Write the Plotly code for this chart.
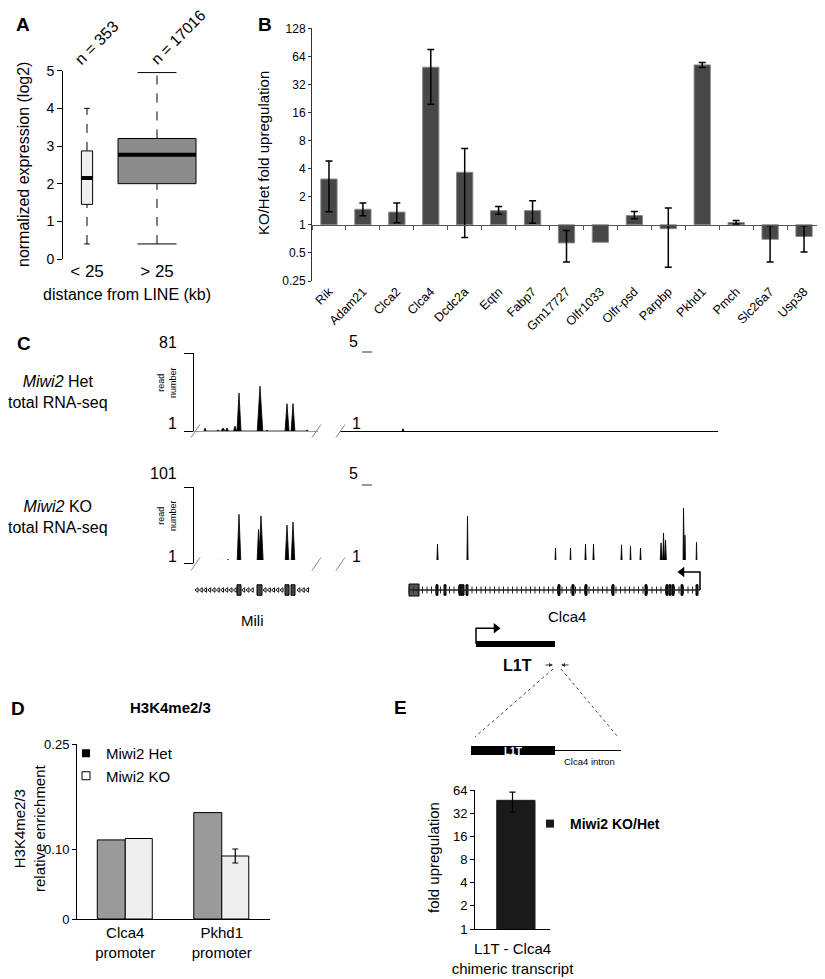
import numpy as np
import plotly.graph_objects as go

# The page body has an 8 px margin, so the figure is drawn 8 px in from the corner.
OFF = 8
W, H = 825 - OFF, 979 - OFF
FONT = "Liberation Sans, Arial, Helvetica, sans-serif"

# ---------------- Panel A: expression vs distance from LINE ----------------
a_groups = ["< 25", "> 25"]
a_n = [353, 17016]
a_whisker_low = [0.40, 0.40]
a_q1 = [1.45, 2.00]
a_median = [2.15, 2.77]
a_q3 = [2.87, 3.20]
a_whisker_high = [4.00, 4.95]
a_fill = ["#eeeeee", "#8c8c8c"]

# ---------------- Panel B: KO/Het fold upregulation ----------------
b_genes = ["Rik", "Adam21", "Clca2", "Clca4", "Dcdc2a", "Eqtn", "Fabp7", "Gm17727",
           "Olfr1033", "Olfr-psd", "Parpbp", "Pkhd1", "Pmch", "Slc26a7", "Usp38"]
b_fold = [3.1, 1.47, 1.37, 49.0, 3.66, 1.42, 1.42, 0.64, 0.65, 1.26, 0.91, 51.8, 1.06, 0.70, 0.75]
b_err_high = [4.85, 1.71, 1.71, 76.0, 6.6, 1.57, 1.81, 0.87, None, 1.39, 1.52, 54.9, 1.11, 0.98, 0.98]
b_err_low = [1.38, 1.25, 1.05, 19.6, 0.73, 1.30, 1.04, 0.40, None, 1.16, 0.35, 48.5, 1.02, 0.40, 0.51]
b_ticks = [0.25, 0.5, 1, 2, 4, 8, 16, 32, 64, 128]

# ---------------- Panel C: RNA-seq coverage (positions in kb) ----------------
mili_het_kb = [2.2, 4.8, 5.8, 6.6, 8.2, 9.0, 13.2, 14.6, 18.6, 19.8, 22.6]
mili_het_reads = [4, 2, 4, 4, 6, 40, 47, 2, 29, 29, 2]
mili_het_half = [0.2, 0.3, 0.4, 0.3, 0.3, 0.4, 0.55, 0.2, 0.4, 0.38, 0.3]
mili_ko_kb = [4.8, 5.6, 6.8, 9.0, 11.2, 12.9, 13.4, 16.8, 18.6, 19.8, 23.2]
mili_ko_reads = [5, 5, 6, 65, 2, 45, 63, 3, 51, 55, 4]
mili_ko_half = [0.3, 0.3, 0.3, 0.38, 0.2, 0.3, 0.45, 0.2, 0.38, 0.38, 0.2]
clca4_het_kb = [12.6]
clca4_het_reads = [1.12]
clca4_het_half = [0.2]
clca4_ko_kb = [11.0, 12.4, 14.0, 15.6, 19.5, 25.5, 30.0, 42.0, 43.1, 46.1, 47.5, 49.1, 50.7,
               53.0, 56.3, 58.1, 60.1, 64.2, 64.7, 65.1, 67.5, 68.7, 69.0, 71.3]
clca4_ko_reads = [1.08, 1.08, 1.08, 1.08, 2.04, 3.48, 1.08, 1.08, 1.83, 1.83, 1.1, 2.04, 2.04,
                  1.1, 2.0, 1.92, 1.83, 2.1, 2.61, 2.25, 1.1, 3.91, 2.5, 2.13]
clca4_ko_half = [0.2, 0.2, 0.2, 0.2, 0.15, 0.12, 0.2, 0.3, 0.12, 0.12, 0.3, 0.15, 0.15,
                 0.3, 0.15, 0.12, 0.15, 0.2, 0.15, 0.2, 0.3, 0.1, 0.1, 0.1]
track_max = [81, 101, 5, 5]  # Het-Mili, KO-Mili, Het-Clca4, KO-Clca4

mili_gene_span = [0.6, 22.8]
mili_exon_start = [8.6, 12.6, 18.2, 19.4]
mili_exon_end = [9.4, 13.6, 19.0, 20.2]
clca4_gene_span = [13.8, 72.0]
clca4_exon_start = [13.8, 19.2, 20.8, 23.8, 25.2, 43.6, 46.4, 49.0, 54.4, 61.0, 65.2, 65.8, 66.4, 68.2, 71.2]
clca4_exon_end = [15.8, 19.6, 21.2, 24.8, 25.6, 44.0, 46.8, 49.4, 54.8, 61.4, 65.6, 66.2, 66.8, 68.6, 71.6]
l1t_span = [27.2, 43.0]

# ---------------- Panel D: H3K4me2/3 ChIP ----------------
d_regions = ["Clca4<br>promoter", "Pkhd1<br>promoter"]
d_het = [0.113, 0.152]
d_ko = [0.115, 0.090]
d_ko_err = [0.0, 0.010]

# ---------------- Panel E: chimeric transcript ----------------
e_target = ["L1T - Clca4<br>chimeric transcript"]
e_fold = [47.0]
e_err_high = [60.0]
e_err_low = [33.0]
e_ticks = [1, 2, 4, 8, 16, 32, 64]


def px(x):
    return (x - OFF) / W


def py(y):
    return 1 - (y - OFF) / H


def dx(a, b):
    return [px(a), px(b)]


def dy(top, bottom):
    return [py(bottom), py(top)]


fig = go.Figure()
NOHOVER = dict(showlegend=False, hoverinfo="skip")

# ---------- A ----------
k_w = 0.00854
for i in range(len(a_groups)):
    xc = i + 1
    w = k_w * np.sqrt(a_n[i])
    fig.add_trace(go.Scatter(x=[xc, xc, None, xc, xc],
                             y=[a_q3[i], a_whisker_high[i], None, a_whisker_low[i], a_q1[i]],
                             mode="lines", line=dict(color="black", width=1, dash="dash"),
                             xaxis="x", yaxis="y", **NOHOVER))
    fig.add_trace(go.Scatter(x=[xc - w / 4, xc + w / 4, None, xc - w / 4, xc + w / 4],
                             y=[a_whisker_high[i]] * 2 + [None] + [a_whisker_low[i]] * 2,
                             mode="lines", line=dict(color="black", width=1),
                             xaxis="x", yaxis="y", **NOHOVER))
    fig.add_trace(go.Scatter(x=[xc - w / 2, xc + w / 2, xc + w / 2, xc - w / 2, xc - w / 2],
                             y=[a_q1[i], a_q1[i], a_q3[i], a_q3[i], a_q1[i]],
                             mode="lines", fill="toself", fillcolor=a_fill[i],
                             line=dict(color="black", width=1), xaxis="x", yaxis="y", **NOHOVER))
    fig.add_trace(go.Scatter(x=[xc - w / 2, xc + w / 2], y=[a_median[i]] * 2, mode="lines",
                             line=dict(color="black", width=4), xaxis="x", yaxis="y", **NOHOVER))

# ---------- B ----------
b_log = np.log2(b_fold)
fig.add_trace(go.Bar(x=b_genes, y=b_log, width=0.48, xaxis="x2", yaxis="y2",
                     marker=dict(color="#474747", line=dict(color="#8a8a8a", width=1)), **NOHOVER))
eg = [g for g, h in zip(b_genes, b_err_high) if h is not None]
ev = [np.log2(v) for v, h in zip(b_fold, b_err_high) if h is not None]
ep = [np.log2(h) - np.log2(v) for v, h in zip(b_fold, b_err_high) if h is not None]
em = [np.log2(v) - np.log2(l) for v, l in zip(b_fold, b_err_low) if l is not None]
fig.add_trace(go.Scatter(x=eg, y=ev, mode="markers", marker=dict(size=1, color="rgba(0,0,0,0)"),
                         error_y=dict(type="data", symmetric=False, array=ep, arrayminus=em,
                                      color="black", thickness=1.5, width=3.5),
                         xaxis="x2", yaxis="y2", **NOHOVER))
fig.add_trace(go.Scatter(x=[-0.5], y=[0], mode="markers", marker=dict(size=1, opacity=0),
                         xaxis="x3", yaxis="y2", **NOHOVER))


# ---------- C ----------
def coverage(pos, val, half):
    xs, ys = [], []
    for c, v, hw in sorted(zip(pos, val, half)):
        xs += [c - hw, c, c + hw]
        ys += [1, v, 1]
    return xs, ys


tracks = [(mili_het_kb, mili_het_reads, mili_het_half, "x4", "y4"),
          (mili_ko_kb, mili_ko_reads, mili_ko_half, "x5", "y5"),
          (clca4_het_kb, clca4_het_reads, clca4_het_half, "x7", "y7"),
          (clca4_ko_kb, clca4_ko_reads, clca4_ko_half, "x8", "y8")]
for pos, val, hw, xa, ya in tracks:
    xs, ys = coverage(pos, val, hw)
    fig.add_trace(go.Scatter(x=xs, y=ys, mode="lines", fill="tozeroy", fillcolor="black",
                             line=dict(color="black", width=0.8), xaxis=xa, yaxis=ya, **NOHOVER))

# Mili gene model (reverse strand chevrons)
chev = [c for c in np.arange(mili_gene_span[0], mili_gene_span[1], 0.85)
        if not any(s - 0.3 <= c <= e + 0.3 for s, e in zip(mili_exon_start, mili_exon_end))]
fig.add_trace(go.Scatter(x=chev, y=[0] * len(chev), mode="markers",
                         marker=dict(symbol="triangle-left-open", size=4, color="#111",
                                     line=dict(width=1, color="#111")),
                         xaxis="x6", yaxis="y6", **NOHOVER))
fig.add_trace(go.Bar(x=[(s + e) / 2 for s, e in zip(mili_exon_start, mili_exon_end)],
                     y=[0.7] * 4, base=[-0.35] * 4,
                     width=[e - s for s, e in zip(mili_exon_start, mili_exon_end)],
                     marker=dict(color="#444", line=dict(color="black", width=1)),
                     xaxis="x6", yaxis="y6", **NOHOVER))

# Clca4 gene model
fig.add_trace(go.Scatter(x=clca4_gene_span, y=[0, 0], mode="lines",
                         line=dict(color="#222", width=1.5), xaxis="x9", yaxis="y9", **NOHOVER))
ticks_c = np.arange(clca4_gene_span[0], clca4_gene_span[1], 0.9)
fig.add_trace(go.Scatter(x=ticks_c, y=[0] * len(ticks_c), mode="markers",
                         marker=dict(symbol="line-ns-open", size=5, color="#222",
                                     line=dict(width=1, color="#222")),
                         xaxis="x9", yaxis="y9", **NOHOVER))
fig.add_trace(go.Bar(x=[(s + e) / 2 for s, e in zip(clca4_exon_start, clca4_exon_end)],
                     y=[0.8] + [0.7] * (len(clca4_exon_start) - 1),
                     base=[-0.4] + [-0.35] * (len(clca4_exon_start) - 1),
                     width=[e - s for s, e in zip(clca4_exon_start, clca4_exon_end)],
                     marker=dict(color=["#555"] + ["#111"] * (len(clca4_exon_start) - 1),
                                 line=dict(color="black", width=1)),
                     xaxis="x9", yaxis="y9", **NOHOVER))
# Clca4 TSS arrow (minus strand)
tss = clca4_gene_span[1]
fig.add_trace(go.Scatter(x=[tss, tss, tss - 3.6], y=[0, 1.2, 1.2], mode="lines",
                         line=dict(color="black", width=1.5), xaxis="x9", yaxis="y9", **NOHOVER))
fig.add_trace(go.Scatter(x=[tss - 3.6], y=[1.2], mode="markers",
                         marker=dict(symbol="triangle-left", size=9, color="black"),
                         xaxis="x9", yaxis="y9", **NOHOVER))
# L1T element with TSS arrow
fig.add_trace(go.Scatter(x=l1t_span, y=[-3.6, -3.6], mode="lines",
                         line=dict(color="black", width=6), xaxis="x9", yaxis="y9", **NOHOVER))
fig.add_trace(go.Scatter(x=[l1t_span[0], l1t_span[0], l1t_span[0] + 3.6], y=[-3.6, -2.55, -2.55],
                         mode="lines", line=dict(color="black", width=1.5),
                         xaxis="x9", yaxis="y9", **NOHOVER))
fig.add_trace(go.Scatter(x=[l1t_span[0] + 4.0], y=[-2.55], mode="markers",
                         marker=dict(symbol="triangle-right", size=9, color="black"),
                         xaxis="x9", yaxis="y9", **NOHOVER))

# ---------- D ----------
fig.add_trace(go.Bar(x=[0, 1], y=d_het, width=0.29, offset=-0.29, xaxis="x10", yaxis="y10",
                     marker=dict(color="#9a9a9a", line=dict(color="black", width=1)), **NOHOVER))
fig.add_trace(go.Bar(x=[0, 1], y=d_ko, width=0.28, offset=0.0, xaxis="x10", yaxis="y10",
                     marker=dict(color="#efefef", line=dict(color="black", width=1)),
                     error_y=dict(type="data", array=d_ko_err, color="black", thickness=1.2, width=3),
                     **NOHOVER))
fig.add_trace(go.Scatter(x=[None], y=[None], mode="markers", name="Miwi2 Het", legend="legend",
                         marker=dict(symbol="square", size=8, color="black"),
                         xaxis="x10", yaxis="y10", hoverinfo="skip"))
fig.add_trace(go.Scatter(x=[None], y=[None], mode="markers", name="Miwi2 KO", legend="legend",
                         marker=dict(symbol="square", size=8, color="white",
                                     line=dict(color="black", width=1)),
                         xaxis="x10", yaxis="y10", hoverinfo="skip"))

# ---------- E ----------
e_log = np.log2(e_fold)
fig.add_trace(go.Bar(x=e_target, y=e_log, width=0.51, offset=-0.21, xaxis="x11", yaxis="y11",
                     marker=dict(color="#1a1a1a", line=dict(color="#1a1a1a", width=1)),
                     **NOHOVER))
fig.add_trace(go.Scatter(x=e_target, y=e_log, mode="markers", marker=dict(size=1, opacity=0),
                         error_y=dict(type="data", symmetric=False,
                                      array=list(np.log2(e_err_high) - e_log),
                                      arrayminus=list(e_log - np.log2(e_err_low)),
                                      color="black", thickness=1.2, width=3),
                         xaxis="x11", yaxis="y11", **NOHOVER))
fig.add_trace(go.Scatter(x=[None], y=[None], mode="markers", name="<b>Miwi2 KO/Het</b>",
                         legend="legend2", marker=dict(symbol="square", size=8, color="#1a1a1a"),
                         xaxis="x11", yaxis="y11", hoverinfo="skip"))

# ---------------- Layout ----------------
base = dict(showgrid=False, zeroline=False, automargin=False)
hidden = dict(visible=False, showgrid=False, zeroline=False, automargin=False)
KM, RM = 24.8, 75.6

layout = dict(
    template="none",
    width=W, height=H, margin=dict(l=0, r=0, t=0, b=0, pad=0, autoexpand=False),
    paper_bgcolor="white", plot_bgcolor="white",
    font=dict(family=FONT, color="black", size=14),
    barmode="overlay", showlegend=True,
    xaxis=dict(base, domain=dx(63, 210), range=[0.657, 2.757], anchor="y", tickvals=[1, 2],
               ticktext=a_groups, showline=False, ticks="", tickfont=dict(size=17)),
    yaxis=dict(base, domain=dy(70.7, 259), range=[0, 5], anchor="x", tickvals=list(range(6)),
               showline=True, linecolor="black", ticks="outside", ticklen=5, tickcolor="black",
               tickfont=dict(size=14)),
    xaxis2=dict(base, domain=dx(312, 821), type="category", range=[-0.5, 14.5], anchor="y2",
                showline=False, ticks="", tickangle=-45, tickfont=dict(size=12.5)),
    yaxis2=dict(base, domain=dy(28.3, 281), range=[-2, 7], anchor="x2",
                tickvals=list(np.log2(b_ticks)), ticktext=[str(t) for t in b_ticks],
                showline=True, linecolor="#333", ticks="outside", ticklen=3, tickcolor="#333",
                tickfont=dict(size=12)),
    xaxis3=dict(base, domain=dx(312, 821), overlaying="x2", anchor="free", position=py(225),
                range=[-0.5, 14.5], tickvals=[i - 0.5 for i in range(16)], ticks="outside",
                ticklen=4, tickcolor="#555", showticklabels=False, showline=True, linecolor="#555"),
    xaxis4=dict(base, domain=dx(194, 318), range=[0, KM], anchor="y4", showline=True,
                linecolor="#9a9a9a", ticks="", showticklabels=False),
    yaxis4=dict(base, domain=dy(353, 431), range=[1, track_max[0]], anchor="x4", showline=True,
                linecolor="black", tickvals=[1, track_max[0]], ticks="outside", ticklen=9,
                tickcolor="black", showticklabels=False),
    xaxis5=dict(base, domain=dx(194, 318), range=[0, KM], anchor="y5", showline=True,
                linecolor="#9a9a9a", ticks="", showticklabels=False),
    yaxis5=dict(base, domain=dy(487, 563), range=[1, track_max[1]], anchor="x5", showline=True,
                linecolor="black", tickvals=[1, track_max[1]], ticks="outside", ticklen=9,
                tickcolor="black", showticklabels=False),
    xaxis6=dict(hidden, domain=dx(194, 318), range=[0, KM], anchor="y6"),
    yaxis6=dict(hidden, domain=dy(560, 680), range=[-6, 2], anchor="x6"),
    xaxis7=dict(base, domain=dx(340, 718), range=[0, RM], anchor="y7", showline=True,
                linecolor="black", linewidth=1.2, ticks="", showticklabels=False),
    yaxis7=dict(hidden, domain=dy(353, 431), range=[1, track_max[2]], anchor="x7"),
    xaxis8=dict(base, domain=dx(340, 718), range=[0, RM], anchor="y8", showline=True,
                linecolor="black", linewidth=1.2, ticks="", showticklabels=False),
    yaxis8=dict(hidden, domain=dy(487, 564), range=[1, track_max[3]], anchor="x8"),
    xaxis9=dict(hidden, domain=dx(340, 718), range=[0, RM], anchor="y9"),
    yaxis9=dict(hidden, domain=dy(560, 680), range=[-6, 2], anchor="x9"),
    xaxis10=dict(base, domain=dx(77, 270), range=[-0.5, 1.5], anchor="y10", tickvals=[0, 1],
                 ticktext=d_regions, showline=True, linecolor="black", ticks="",
                 tickfont=dict(size=15)),
    yaxis10=dict(base, domain=dy(744, 919), range=[0, 0.25], anchor="x10",
                 tickvals=[0, 0.10, 0.25], ticktext=["0", "0.10", "0.25"], showline=True,
                 linecolor="black", ticks="outside", ticklen=4, tickcolor="black",
                 tickfont=dict(size=13)),
    xaxis11=dict(base, domain=dx(475, 550), type="category", range=[-0.5, 0.5], anchor="y11",
                 showline=True, linecolor="black", ticks="", tickfont=dict(size=15),
                 ticklabelstandoff=6),
    yaxis11=dict(base, domain=dy(790, 929), range=[0, 6], anchor="x11",
                 tickvals=list(np.log2(e_ticks)), ticktext=[str(t) for t in e_ticks],
                 showline=True, linecolor="black", ticks="outside", ticklen=4, tickcolor="black",
                 tickfont=dict(size=13)),
    legend=dict(x=px(66), y=py(737), xanchor="left", yanchor="top", font=dict(size=15),
                bgcolor="rgba(0,0,0,0)", tracegroupgap=0, itemwidth=30),
    legend2=dict(x=px(530), y=py(808), xanchor="left", yanchor="top", font=dict(size=14),
                 bgcolor="rgba(0,0,0,0)", itemwidth=30),
)
fig.update_layout(**layout)

anns = []


def ann(text, x, y, size=14, bold=False, angle=0, xanchor="center", yanchor="middle",
        color="black"):
    t = f"<b>{text}</b>" if bold else text
    anns.append(dict(text=t, x=px(x), y=py(y), xref="paper", yref="paper", showarrow=False,
                     font=dict(size=size, color=color, family=FONT), textangle=angle,
                     xanchor=xanchor, yanchor=yanchor))


# panel letters
ann("A", 23, 25, 19, bold=True)
ann("B", 265, 25, 19, bold=True)
ann("C", 24, 343, 19, bold=True)
ann("D", 9, 708, 19, bold=True, xanchor="left")
ann("E", 400, 707, 19, bold=True)

# A texts
ann("n = 353", 97, 43, 16, angle=-45)
ann("n = 17016", 178, 38, 15.5, angle=-45)
ann("normalized expression (log2)", 23, 165, 16, angle=-90)
ann("distance from LINE (kb)", 127, 295, 16)

# B texts
ann("KO/Het fold upregulation", 263, 153, 15, angle=-90)

# C texts
ann("<i>Miwi2</i> Het<br>total RNA-seq", 58, 392, 16)
ann("<i>Miwi2</i> KO<br>total RNA-seq", 58, 517, 16)
ann("read<br>number", 167, 383, 9, angle=-90)
ann("read<br>number", 167, 516, 9, angle=-90)
ann(str(track_max[0]), 179, 342, 16, xanchor="right")
ann("1", 179, 423, 16, xanchor="right")
ann(str(track_max[1]), 179, 474, 16, xanchor="right")
ann("1", 179, 556, 16, xanchor="right")
ann(str(track_max[2]), 353, 341, 16)
ann("1", 356, 423, 16)
ann(str(track_max[3]), 353, 474, 16)
ann("1", 356, 556, 16)
ann("Mili", 252, 620, 15)
ann("Clca4", 567, 616, 15)
ann("L1T", 517, 665, 16, bold=True)

# E schematic texts
ann("L1T", 513, 751, 10, bold=True, color="white")
ann("Clca4 intron", 589, 761, 9.5)

# D texts
ann("H3K4me2/3", 170, 707, 15, bold=True)
ann("H3K4me2/3<br>relative enrichment", 29, 828, 15, angle=-90)

# E texts
ann("fold upregulation", 433, 858, 15, angle=-90)

# primer arrows on the Clca4 axis
anns.append(dict(x=(553 - 340) / 5, y=-5.0, xref="x9", yref="y9", ax=-9, ay=0, text="",
                 showarrow=True, arrowhead=2, arrowsize=0.8, arrowwidth=1, arrowcolor="#333"))
anns.append(dict(x=(561 - 340) / 5, y=-5.0, xref="x9", yref="y9", ax=9, ay=0, text="",
                 showarrow=True, arrowhead=2, arrowsize=0.8, arrowwidth=1, arrowcolor="#333"))

shapes = []


def seg(x0, y0, x1, y1, color="black", width=1, dash="solid"):
    shapes.append(dict(type="line", xref="paper", yref="paper", x0=px(x0), y0=py(y0),
                       x1=px(x1), y1=py(y1), line=dict(color=color, width=width, dash=dash)))


# break marks
for base_y in (431, 564):
    for xm in (195.5, 316.5, 340.5):
        seg(xm - 4.5, base_y + 6.5, xm + 4.5, base_y - 6.5, color="#888", width=1)
# "5 _" dashes on the Clca4 tracks
seg(362, 352, 372, 352, color="#555", width=1.2)
seg(362, 485, 372, 485, color="#555", width=1.2)
# E schematic
seg(553, 669, 475, 737, color="#444", width=1, dash="dot")
seg(561, 669, 618, 737, color="#444", width=1, dash="dot")
shapes.append(dict(type="rect", xref="paper", yref="paper", x0=px(471), x1=px(555),
                   y0=py(755), y1=py(746), fillcolor="black", line=dict(width=0)))
seg(555, 750.5, 621, 750.5, color="black", width=1)

fig.update_layout(annotations=anns, shapes=shapes)
fig.write_html("out.html")
